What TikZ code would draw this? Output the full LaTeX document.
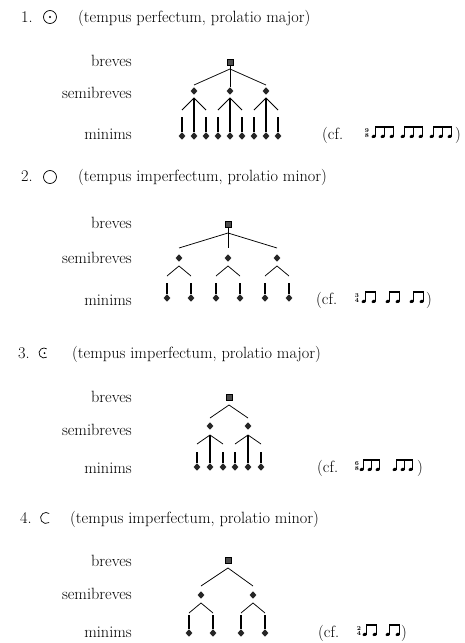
\documentclass[tikz,border=0pt]{standalone}
\usetikzlibrary{shapes.geometric}

% n beamed eighth notes: #1 first stem x, #2 baseline y, #3 count, #4 spacing
\newcommand\notegroup[4]{%
  \foreach \k [evaluate=\k as \sx using #1+(\k-1)*#4] in {1,...,#3}{
    \node[nhead] at (\sx-2.2,#2-2.6) {};
    \draw[line width=0.65pt] (\sx-0.3,#2-3) -- (\sx-0.3,#2-12);
  }
  \pgfmathsetmacro\beamend{#1+(#3-1)*#4}
  \fill (#1-0.65,#2-13.2) rectangle (\beamend+0.05,#2-11.2);
}
% stacked time signature: #1 x, #2 baseline y, #3 upper, #4 lower
\newcommand\timesig[4]{%
  \node[tsig] at (#1,#2-8.6) {#3};
  \node[tsig] at (#1,#2-3.4) {#4};
}

\begin{document}
\begin{tikzpicture}[x=1pt,y=-1pt,
  txt/.style={inner sep=0pt,font=\fontsize{16.3}{19}\selectfont},
  lbl/.style={txt,anchor=base east},
  head/.style={txt,anchor=base west},
  brevis/.style={rectangle,draw=black,fill=black!70,line width=0.7pt,minimum size=6pt,inner sep=0pt},
  semib/.style={diamond,fill=black!85,minimum width=7pt,minimum height=7.5pt,inner sep=0pt},
  minima/.style={diamond,fill=black!85,minimum width=7pt,minimum height=7.5pt,inner sep=0pt},
  branch/.style={line width=0.75pt},
  stem/.style={line width=1.2pt},
  sign/.style={line width=0.7pt},
  nhead/.style={ellipse,fill=black,minimum width=4.6pt,minimum height=3.2pt,inner sep=0pt,rotate=20},
  tsig/.style={inner sep=0pt,font=\fontsize{6}{6}\selectfont\bfseries},
]
\useasboundingbox (0,0) rectangle (464,643);

% ---------- 1. tempus perfectum, prolatio major ----------
\node[head] (n1) at (21,22) {1.};
\draw[sign] (50,17) circle (6.5);
\fill (50,17) circle (1.1);
\node[head] (h1) at (78,22) {(tempus perfectum, prolatio major)};

\node[lbl] (l1b) at (132,66) {breves};
\node[lbl] (l1s) at (132,98) {semibreves};
\node[lbl] (l1m) at (132,139) {minims};

\node[brevis] (b1) at (230,62) {};
\coordinate (b1j) at (230,69);
\foreach \i/\x in {1/194,2/230,3/266}{
  \node[semib] (s1-\i) at (\x,91) {};
  \coordinate (s1-\i-t) at (\x,85);
  \coordinate (s1-\i-a) at (\x,98);
  \coordinate (s1-\i-l) at (\x-12,110);
  \coordinate (s1-\i-r) at (\x+12,110);
  \foreach \d/\o in {l/-12,c/0,r/12}{
    \node[minima] (m1-\i\d) at (\x+\o,136) {};
    \coordinate (m1-\i\d-top) at (\x+\o,117);
  }
}
\draw[branch] (b1.south) -- (s1-2.north);
\draw[branch] (s1-1-t) -- (b1j) -- (s1-3-t);
\foreach \i in {1,2,3}{
  \draw[branch] (s1-\i-l) -- (s1-\i-a) -- (s1-\i-r);
  \draw[stem] (s1-\i-a) -- (m1-\i c.north);
  \draw[stem] (m1-\i l.north) -- (m1-\i l-top);
  \draw[stem] (m1-\i r.north) -- (m1-\i r-top);
}

\node[head] (cf1) at (322,139) {(cf.};
\timesig{367}{139}{9}{8}
\notegroup{376}{139}{3}{9}
\notegroup{405}{139}{3}{9}
\notegroup{434}{139}{3}{9}
\node[head] (p1) at (455,139) {)};

% ---------- 2. tempus imperfectum, prolatio minor ----------
\node[head] (n2) at (21,181) {2.};
\draw[sign] (50,177) circle (6.5);
\node[head] (h2) at (78,181) {(tempus imperfectum, prolatio minor)};

\node[lbl] (l2b) at (132,228) {breves};
\node[lbl] (l2s) at (132,263) {semibreves};
\node[lbl] (l2m) at (132,305) {minims};

\node[brevis] (b2) at (228,224) {};
\coordinate (b2j) at (228,233);
\foreach \i/\x in {1/179,2/228,3/277}{
  \node[semib] (s2-\i) at (\x,258) {};
  \coordinate (s2-\i-t) at (\x,248);
  \coordinate (s2-\i-a) at (\x,266);
  \coordinate (s2-\i-l) at (\x-12,276);
  \coordinate (s2-\i-r) at (\x+12,276);
  \foreach \d/\o in {l/-12,r/12}{
    \node[minima] (m2-\i\d) at (\x+\o,298) {};
    \coordinate (m2-\i\d-top) at (\x+\o,283);
  }
}
\draw[branch] (b2.south) -- (s2-2-t);
\draw[branch] (s2-1-t) -- (b2j) -- (s2-3-t);
\foreach \i in {1,2,3}{
  \draw[branch] (s2-\i-l) -- (s2-\i-a) -- (s2-\i-r);
  \draw[stem] (m2-\i l.north) -- (m2-\i l-top);
  \draw[stem] (m2-\i r.north) -- (m2-\i r-top);
}

\node[head] (cf2) at (316,304) {(cf.};
\timesig{357}{304}{3}{4}
\notegroup{366}{304}{2}{10}
\notegroup{390}{304}{2}{10}
\notegroup{414}{304}{2}{10}
\node[head] (p2) at (426,304) {)};

% ---------- 3. tempus imperfectum, prolatio major ----------
\node[head] (n3) at (18,358) {3.};
\draw[sign] (44,353) ++(55:5) arc[start angle=55,end angle=305,radius=5];
\fill (44.5,353) circle (1);
\node[head] (h3) at (72,358) {(tempus imperfectum, prolatio major)};

\node[lbl] (l3b) at (132,402) {breves};
\node[lbl] (l3s) at (132,435) {semibreves};
\node[lbl] (l3m) at (132,473) {minims};

\node[brevis] (b3) at (229,397) {};
\coordinate (b3j) at (229,405);
\foreach \i/\x in {1/210,2/248}{
  \node[semib] (s3-\i) at (\x,426) {};
  \coordinate (s3-\i-t) at (\x,418);
  \coordinate (s3-\i-a) at (\x,435);
  \coordinate (s3-\i-l) at (\x-13,444);
  \coordinate (s3-\i-r) at (\x+13,444);
  \foreach \d/\o in {l/-13,c/0,r/13}{
    \node[minima] (m3-\i\d) at (\x+\o,467) {};
    \coordinate (m3-\i\d-top) at (\x+\o,452);
  }
}
\draw[branch] (s3-1-t) -- (b3j) -- (s3-2-t);
\foreach \i in {1,2}{
  \draw[branch] (s3-\i-l) -- (s3-\i-a) -- (s3-\i-r);
  \draw[stem] (s3-\i-a) -- (m3-\i c.north);
  \draw[stem] (m3-\i l.north) -- (m3-\i l-top);
  \draw[stem] (m3-\i r.north) -- (m3-\i r-top);
}

\node[head] (cf3) at (317,472) {(cf.};
\timesig{357}{472}{6}{8}
\notegroup{364}{472}{3}{8}
\notegroup{397}{472}{3}{8}
\node[head] (p3) at (417,472) {)};

% ---------- 4. tempus imperfectum, prolatio minor ----------
\node[head] (n4) at (20,523) {4.};
\draw[sign] (46,518) ++(55:5.5) arc[start angle=55,end angle=305,radius=5.5];
\node[head] (h4) at (70,523) {(tempus imperfectum, prolatio minor)};

\node[lbl] (l4b) at (132,566) {breves};
\node[lbl] (l4s) at (132,599) {semibreves};
\node[lbl] (l4m) at (132,637) {minims};

\node[brevis] (b4) at (228,560) {};
\coordinate (b4j) at (228,568);
\foreach \i/\x in {1/201,2/253}{
  \node[semib] (s4-\i) at (\x,595) {};
  \coordinate (s4-\i-t) at (\x,586);
  \coordinate (s4-\i-a) at (\x,603);
  \coordinate (s4-\i-l) at (\x-12,613);
  \coordinate (s4-\i-r) at (\x+12,613);
  \foreach \d/\o in {l/-12,r/12}{
    \node[minima] (m4-\i\d) at (\x+\o,633) {};
    \coordinate (m4-\i\d-top) at (\x+\o,615);
  }
}
\draw[branch] (s4-1-t) -- (b4j) -- (s4-2-t);
\foreach \i in {1,2}{
  \draw[branch] (s4-\i-l) -- (s4-\i-a) -- (s4-\i-r);
  \draw[stem] (m4-\i l.north) -- (m4-\i l-top);
  \draw[stem] (m4-\i r.north) -- (m4-\i r-top);
}

\node[head] (cf4) at (318,637) {(cf.};
\timesig{359}{637}{2}{4}
\notegroup{367}{637}{2}{10}
\notegroup{390}{637}{2}{10}
\node[head] (p4) at (401,637) {)};

\end{tikzpicture}
\end{document}
